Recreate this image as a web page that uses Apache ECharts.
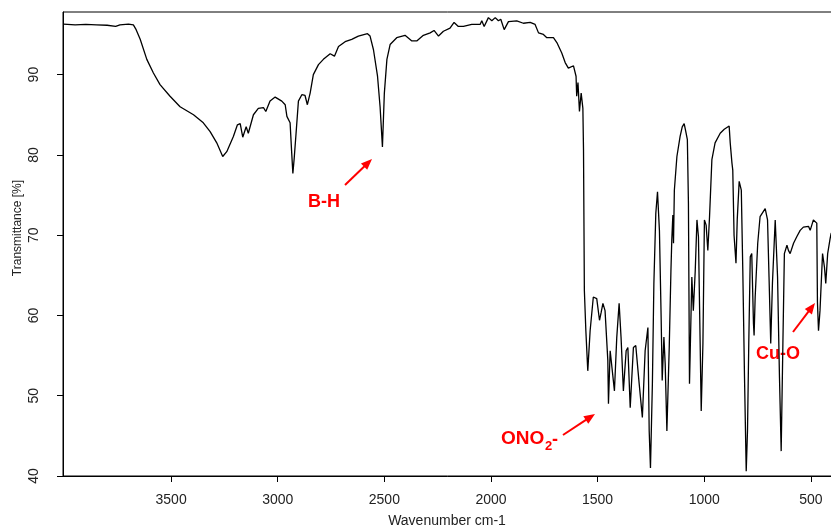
<!DOCTYPE html>
<html>
<head>
<meta charset="utf-8">
<script src="https://cdn.jsdelivr.net/npm/echarts@6/dist/echarts.min.js"></script>
<style>
html,body{margin:0;padding:0;background:#fff;}
#chart{width:831px;height:530px;}
</style>
</head>
<body>
<div id="chart"></div>
<script>
const wavenumbers = [
  4005,3950,3900,3850,3800,3760,3740,3700,3677,3664,
  3645,3614,3583,3552,3505,3458,3395,3349,3317,3286,
  3258,3239,3208,3189,3176,3164,3148,3138,3114,3091,
  3067,3056,3036,3012,2981,2965,2957,2950,2942,2935,
  2929,2923,2914,2903,2887,2872,2861,2848,2833,2809,
  2786,2754,2734,2715,2684,2653,2622,2579,2567,2551,
  2532,2520,2509,2500,2488,2473,2442,2403,2371,2348,
  2317,2285,2267,2246,2223,2192,2173,2153,2129,2090,
  2051,2043,2032,2012,1996,1980,1965,1954,1938,1918,
  1879,1848,1816,1793,1777,1754,1738,1707,1691,1668,
  1652,1637,1613,1601,1598,1592,1585,1577,1569,1566,
  1562,1555,1546,1535,1520,1504,1491,1483,1475,1465,
  1452,1449,1441,1433,1421,1410,1399,1390,1379,1366,
  1358,1347,1332,1321,1305,1290,1277,1264,1258,1252,
  1243,1236,1227,1219,1210,1202,1197,1189,1183,1175,
  1164,1156,1152,1147,1144,1140,1128,1113,1103,1094,
  1087,1079,1074,1069,1066,1058,1051,1042,1034,1027,
  1019,1014,1006,999,991,983,975,964,949,925,
  906,883,878,870,866,860,851,845,836,826,
  819,811,803,797,791,784,777,769,766,761,
  749,738,714,703,696,688,680,667,659,656,
  647,639,631,624,612,605,597,581,566,550,
  535,511,503,488,480,472,469,464,460,457,
  445,436,430,421,410,405,396
];
const transmittance = [
  96.3,96.2,96.25,96.2,96.15,96.0,96.2,96.3,96.2,95.6,
  94.4,91.9,90.2,88.75,87.3,86.0,85.0,84.0,82.9,81.5,
  79.8,80.4,82.3,83.75,83.9,82.2,83.5,82.7,85.0,85.8,
  85.9,85.4,86.7,87.2,86.7,86.25,84.8,85.0,84.0,80.5,
  77.7,79.5,82.7,86.7,87.5,87.4,86.25,87.7,90.0,91.25,
  91.9,92.6,92.3,93.5,94.1,94.4,94.8,95.1,94.8,93.1,
  89.8,86.0,81.0,87.7,91.9,93.75,94.6,94.9,94.2,94.2,
  94.9,95.2,95.5,94.8,95.4,95.8,96.5,96.0,96.0,96.25,
  96.25,96.7,96.0,97.1,96.7,97.1,96.7,96.9,95.6,96.6,
  96.7,96.4,96.5,96.25,95.2,95.0,94.6,94.6,94.0,92.7,
  91.5,90.8,91.1,89.8,87.3,89.0,85.4,87.7,85.8,80.6,
  63.1,58.1,53.1,58.1,62.3,62.1,59.4,60.4,61.5,60.6,
  54.4,49.0,55.6,55.6,50.6,57.3,61.5,57.3,50.6,55.6,
  56.0,48.5,56.0,56.25,51.5,47.3,55.6,58.5,45.6,41.0,
  51.5,64.0,72.7,75.4,70.6,59.8,51.9,57.3,54.0,45.6,
  56.0,65.6,69.4,72.5,69.0,75.6,79.8,82.3,83.5,83.9,
  83.0,81.9,74.0,51.5,55.0,64.8,60.6,65.6,71.9,69.8,
  56.5,48.1,56.5,71.9,71.25,68.1,72.3,79.4,81.5,82.7,
  83.2,83.6,81.5,79.0,78.1,70.0,66.5,72.0,76.7,75.6,
  65.6,52.3,40.6,45.6,56.5,67.3,67.7,59.0,57.5,62.3,
  69.0,72.3,73.3,71.9,64.8,56.5,64.0,71.9,72.0,64.8,
  52.3,43.1,56.5,67.7,68.75,68.1,67.7,69.0,69.8,70.6,
  71.0,71.1,70.6,71.9,72.1,71.5,61.7,58.1,59.5,60.6,
  67.7,66.0,64.0,67.7,69.5,70.2,70.5
];
const xTickValues = [3500, 3000, 2500, 2000, 1500, 1000, 500];
const yTickValues = [40, 50, 60, 70, 80, 90];
const xAxisName = 'Wavenumber cm-1';
const yAxisName = 'Transmittance [%]';

const FONT = '"Liberation Sans", Arial, sans-serif';
const RED = '#ff0000';

function arrow(x1, y1, x2, y2) {
  const dx = x2 - x1, dy = y2 - y1, L = Math.hypot(dx, dy);
  const ux = dx / L, uy = dy / L, hl = 11, hw = 4.5;
  const bx = x2 - ux * hl, by = y2 - uy * hl;
  return [
    { type: 'line', shape: { x1: x1, y1: y1, x2: bx + ux * 2, y2: by + uy * 2 },
      style: { stroke: RED, lineWidth: 2 } },
    { type: 'polygon', shape: { points: [[x2, y2], [bx - uy * hw, by + ux * hw], [bx + uy * hw, by - ux * hw]] },
      style: { fill: RED } }
  ];
}
function label(text, x, y, size) {
  return { type: 'text', x: x, y: y,
    style: { text: text, fill: RED, font: 'bold ' + size + 'px ' + FONT, textAlign: 'left', textVerticalAlign: 'middle' } };
}

const chart = echarts.init(document.getElementById('chart'), null, { renderer: 'canvas' });
chart.setOption({
  animation: false,
  backgroundColor: '#fff',
  grid: { left: 63, right: -2, top: 12, bottom: 54, show: true, borderColor: '#000', borderWidth: 1,
          containLabel: false, outerBoundsMode: 'none' },
  xAxis: {
    type: 'value', inverse: true, min: 396, max: 4007,
    axisLine: { show: true, onZero: false, lineStyle: { color: '#000', width: 1 } },
    axisTick: { show: true, customValues: xTickValues, length: 6, lineStyle: { color: '#000' } },
    axisLabel: { customValues: xTickValues, margin: 17, fontSize: 14, color: '#222', fontFamily: FONT,
                 formatter: v => String(v) },
    splitLine: { show: false }
  },
  yAxis: {
    type: 'value', min: 40, max: 97.8,
    axisLine: { show: true, lineStyle: { color: '#000', width: 1 } },
    axisTick: { show: true, customValues: yTickValues, length: 6, lineStyle: { color: '#000' } },
    axisLabel: { customValues: yTickValues, rotate: 90, margin: 22, fontSize: 14, color: '#222', fontFamily: FONT,
                 formatter: v => String(v) },
    splitLine: { show: false }
  },
  series: [{
    type: 'line',
    data: wavenumbers.map((w, i) => [w, transmittance[i]]),
    showSymbol: false,
    symbol: 'none',
    lineStyle: { color: '#000', width: 1.3 },
    silent: true
  }],
  graphic: [
    { type: 'text', x: 447, y: 521,
      style: { text: xAxisName, fill: '#222', font: '14px ' + FONT, textAlign: 'center', textVerticalAlign: 'middle' } },
    { type: 'text', x: 18, y: 228, rotation: Math.PI / 2,
      style: { text: yAxisName, fill: '#222', font: '12px ' + FONT, textAlign: 'center', textVerticalAlign: 'middle' } },
    label('B-H', 308, 202, 18),
    ...arrow(345, 185, 372, 159),
    label('ONO', 501, 439, 19),
    { type: 'text', x: 545, y: 446,
      style: { text: '2', fill: RED, font: 'bold 13px ' + FONT, textAlign: 'left', textVerticalAlign: 'middle' } },
    label('-', 552, 440, 18),
    ...arrow(563, 435, 595, 414),
    label('Cu-O', 756, 354, 18),
    ...arrow(793, 332, 815, 303)
  ]
});
</script>
</body>
</html>
